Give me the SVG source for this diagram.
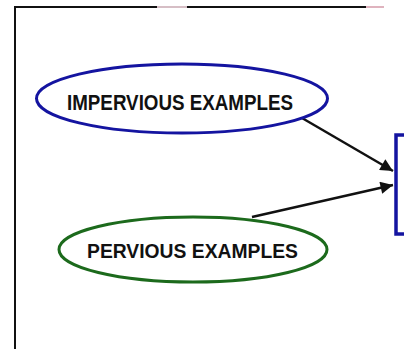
<svg xmlns="http://www.w3.org/2000/svg" width="404" height="349" viewBox="0 0 404 349">
  <style>
    .frame { fill: none; stroke: #111; stroke-width: 2; }
    .edge { fill: none; stroke: #111; stroke-width: 2.5; }
    .label { font-family: "Liberation Sans", Arial, sans-serif; font-weight: bold; fill: #111; text-anchor: middle; }
  </style>
  <defs>
    <marker id="arrow" viewBox="0 0 10 10" refX="10" refY="5" markerWidth="6.5" markerHeight="5" markerUnits="strokeWidth" orient="auto">
      <path d="M0,0 L10,5 L0,10 z" fill="#111"/>
    </marker>
  </defs>
  <rect width="404" height="349" fill="#fff"/>

  <!-- outer frame (top and left sides visible) -->
  <g id="frame">
    <path class="frame" d="M15,349 L15,7 L157,7"/>
    <path d="M157,7 L187,7" stroke="#c9a9b2" stroke-width="1.5"/>
    <path class="frame" d="M187,7 L366,7"/>
    <path d="M366,7 L384,7" stroke="#d49aa8" stroke-width="1.5"/>
  </g>

  <g id="connectors">
    <path class="edge" d="M302,118 L393,171" marker-end="url(#arrow)"/>
    <path class="edge" d="M252,217 L393,185" marker-end="url(#arrow)"/>
  </g>

  <g id="impervious">
    <ellipse cx="182" cy="98.5" rx="145.5" ry="34.5" fill="none" stroke="#1414a0" stroke-width="3"/>
    <text class="label" x="180" y="110" font-size="22" textLength="226" lengthAdjust="spacingAndGlyphs">IMPERVIOUS EXAMPLES</text>
  </g>

  <g id="pervious">
    <ellipse cx="193" cy="249.5" rx="134" ry="32.5" fill="none" stroke="#1c6a1c" stroke-width="3"/>
    <text class="label" x="192.5" y="258" font-size="20.5" textLength="211" lengthAdjust="spacingAndGlyphs">PERVIOUS EXAMPLES</text>
  </g>

  <g id="target">
    <rect x="396" y="135" width="20" height="99" fill="none" stroke="#1414a0" stroke-width="3.5"/>
  </g>
</svg>
